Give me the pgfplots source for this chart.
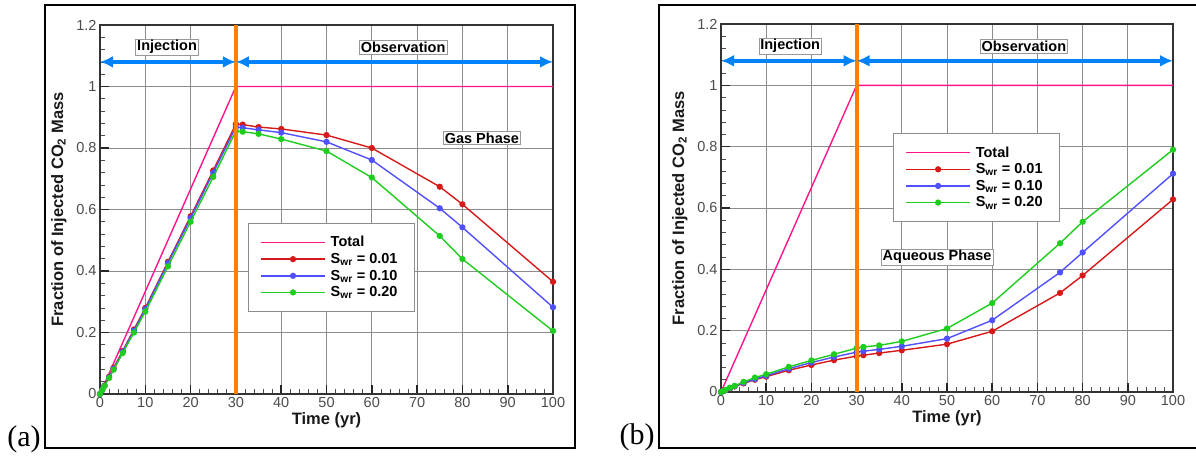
\documentclass[border=0pt]{standalone}
\usepackage{pgfplots}
\pgfplotsset{compat=1.18}
\usepackage{fontspec}
\setmainfont{Liberation Sans}
\newfontfamily\seriffont{Liberation Serif}
\usetikzlibrary{arrows.meta}

\definecolor{cTotal}{RGB}{255,20,140}
\definecolor{cRed}{RGB}{215,25,25}
\definecolor{cBlue}{RGB}{80,80,255}
\definecolor{cGreen}{RGB}{30,205,30}
\definecolor{cArrow}{RGB}{0,130,250}
\definecolor{cOrange}{RGB}{255,128,0}

\tikzset{
  boxlab/.style={draw=black!40, fill=white, inner sep=1.5pt, line width=0.6pt,
    font=\bfseries\fontsize{14.5}{17}\selectfont},
}
\pgfplotsset{
  panel/.style={
    scale only axis,
    xmin=0, xmax=100, ymin=0, ymax=1.2,
    xtick={0,10,...,100}, ytick={0,0.2,0.4,0.6,0.8,1,1.2},
    minor x tick num=4, minor y tick num=4,
    grid=major, major grid style={black!45, line width=0.7pt},
    tick align=inside, xtick pos=left, ytick pos=left,
    major tick length=9pt, minor tick length=5pt,
    every major tick/.style={line width=1.6pt, black!85},
    every minor tick/.style={line width=0.7pt, black!70},
    axis line style={black!80, line width=1.4pt},
    tick label style={font=\fontsize{14.5}{17}\selectfont, text=black!70},
    /pgf/number format/assume math mode=true,
    xlabel={Time (yr)},
    ylabel={Fraction of Injected CO\textsubscript{2} Mass},
    label style={font=\bfseries\fontsize{16.5}{20}\selectfont, text=black!90},
    xlabel style={yshift=2pt},
    ylabel style={yshift=3pt},
    clip mode=individual,
    legend image code/.code={\draw[mark repeat=2,mark phase=2,#1,line width=1.4pt] plot coordinates {(0pt,0pt)(32pt,0pt)(64pt,0pt)};},
    legend cell align=left,
    legend style={draw=black!45, fill=white,
      font=\bfseries\fontsize{14.5}{17}\selectfont,
      inner xsep=12pt, inner ysep=11pt, row sep=1pt,
      nodes={inner xsep=5pt}},
  },
  ser/.style={line width=1.4pt, mark=*, mark size=2.4pt, mark options={solid}},
}

\begin{document}
\begin{tikzpicture}
\useasboundingbox (0pt,0pt) rectangle (1196pt,456pt);
\draw[line width=2pt] (45pt,8pt) rectangle (575pt,451pt);
\draw[line width=2pt] (659pt,8pt) rectangle (1215pt,451pt);
\node[font=\seriffont\fontsize{30}{32}\selectfont] at (24pt,17pt) {(a)};
\node[font=\seriffont\fontsize{30}{32}\selectfont] at (637pt,19pt) {(b)};

% ---------------- (a) Gas phase ----------------
\begin{axis}[panel, at={(100pt,62pt)}, anchor=south west, width=453pt, height=369pt,
  legend style={at={(rel axis cs:0.327,0.463)}, anchor=north west}]
\addplot[cTotal, line width=1.4pt] coordinates {(0,0)(30,1)(100,1)};
\addlegendentry{Total}
\addplot[cRed, ser] coordinates {(0,0)(0.5,0.014)(1,0.028)(2,0.056)(3,0.085)(5,0.14)(7.5,0.21)(10,0.28)(15,0.43)(20,0.578)(25,0.727)(30,0.878)(31.5,0.876)(35,0.868)(40,0.862)(50,0.842)(60,0.8)(75,0.674)(80,0.617)(100,0.365)};
\addlegendentry{S\textsubscript{wr} = 0.01}
\addplot[cBlue, ser] coordinates {(0,0)(0.5,0.013)(1,0.027)(2,0.054)(3,0.082)(5,0.137)(7.5,0.206)(10,0.276)(15,0.426)(20,0.572)(25,0.72)(30,0.868)(31.5,0.866)(35,0.859)(40,0.85)(50,0.82)(60,0.761)(75,0.604)(80,0.542)(100,0.282)};
\addlegendentry{S\textsubscript{wr} = 0.10}
\addplot[cGreen, ser] coordinates {(0,0)(0.5,0.013)(1,0.026)(2,0.052)(3,0.079)(5,0.133)(7.5,0.2)(10,0.268)(15,0.415)(20,0.56)(25,0.706)(30,0.855)(31.5,0.853)(35,0.846)(40,0.829)(50,0.79)(60,0.704)(75,0.514)(80,0.439)(100,0.205)};
\addlegendentry{S\textsubscript{wr} = 0.20}
\addplot[cOrange, line width=4pt, forget plot] coordinates {(30,0)(30,1.2)};
\addplot[cArrow, line width=3.5pt, {Latex[length=13pt,width=12pt]}-{Latex[length=13pt,width=12pt]}, forget plot] coordinates {(0,1.08)(30,1.08)};
\addplot[cArrow, line width=3.5pt, {Latex[length=13pt,width=12pt]}-{Latex[length=13pt,width=12pt]}, forget plot] coordinates {(30,1.08)(100,1.08)};
\node[boxlab] at (axis cs:14.8,1.128) {Injection};
\node[boxlab] at (axis cs:66.9,1.128) {Observation};
\node[boxlab] at (axis cs:84.3,0.833) {Gas Phase};
\end{axis}

% ---------------- (b) Aqueous phase ----------------
\begin{axis}[panel, at={(721pt,64pt)}, anchor=south west, width=452pt, height=368pt,
  legend style={at={(rel axis cs:0.381,0.703)}, anchor=north west}]
\addplot[cTotal, line width=1.4pt] coordinates {(0,0)(30,1)(100,1)};
\addlegendentry{Total}
\addplot[cRed, ser] coordinates {(0,0)(0.5,0.003)(1,0.006)(2,0.012)(3,0.018)(5,0.028)(7.5,0.04)(10,0.05)(15,0.071)(20,0.088)(25,0.104)(30,0.117)(31.5,0.12)(35,0.127)(40,0.136)(50,0.156)(60,0.198)(75,0.323)(80,0.38)(100,0.628)};
\addlegendentry{S\textsubscript{wr} = 0.01}
\addplot[cBlue, ser] coordinates {(0,0)(0.5,0.003)(1,0.006)(2,0.013)(3,0.019)(5,0.03)(7.5,0.042)(10,0.053)(15,0.076)(20,0.096)(25,0.114)(30,0.13)(31.5,0.133)(35,0.139)(40,0.149)(50,0.174)(60,0.234)(75,0.39)(80,0.455)(100,0.712)};
\addlegendentry{S\textsubscript{wr} = 0.10}
\addplot[cGreen, ser] coordinates {(0,0)(0.5,0.003)(1,0.007)(2,0.014)(3,0.02)(5,0.033)(7.5,0.047)(10,0.058)(15,0.082)(20,0.103)(25,0.123)(30,0.143)(31.5,0.147)(35,0.152)(40,0.165)(50,0.207)(60,0.29)(75,0.485)(80,0.555)(100,0.79)};
\addlegendentry{S\textsubscript{wr} = 0.20}
\addplot[cOrange, line width=4pt, forget plot] coordinates {(30,0)(30,1.2)};
\addplot[cArrow, line width=3.5pt, {Latex[length=13pt,width=12pt]}-{Latex[length=13pt,width=12pt]}, forget plot] coordinates {(0,1.08)(30,1.08)};
\addplot[cArrow, line width=3.5pt, {Latex[length=13pt,width=12pt]}-{Latex[length=13pt,width=12pt]}, forget plot] coordinates {(30,1.08)(100,1.08)};
\node[boxlab] at (axis cs:15.3,1.128) {Injection};
\node[boxlab] at (axis cs:67,1.128) {Observation};
\node[boxlab] at (axis cs:47.8,0.44) {Aqueous Phase};
\end{axis}
\end{tikzpicture}
\end{document}
